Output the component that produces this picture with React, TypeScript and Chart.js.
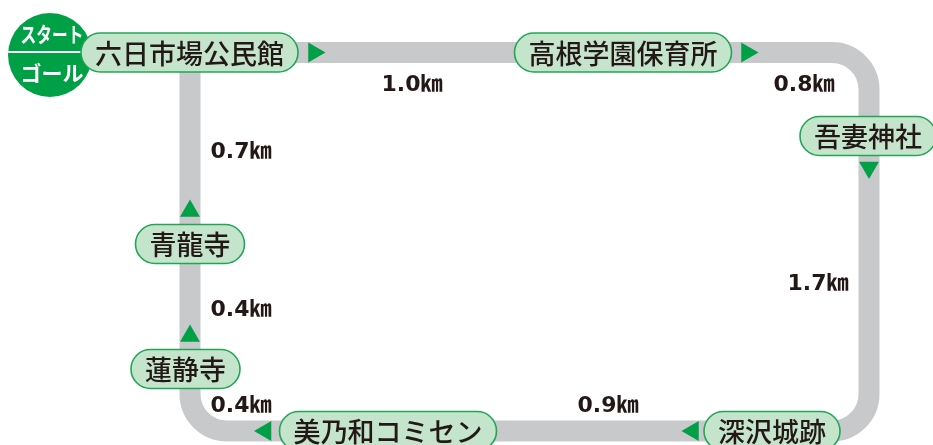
import React, { useEffect, useRef } from 'react';
import { Chart, registerables } from 'chart.js';

Chart.register(...registerables);

// ---- Data (map units = route-map grid) ----
const stationNames = ['六日市場公民館', '高根学園保育所', '吾妻神社', '深沢城跡', '美乃和コミセン', '蓮静寺', '青龍寺'];
const stationX = [189.5, 623, 868, 772, 388, 185.5, 190];
const stationY = [52.5, 52.5, 136, 431, 431, 369, 244];

const routeX = [190, 869, 869, 190, 190];
const routeY = [52.5, 52.5, 431, 431, 52.5];

const distanceLabels = ['1.0', '0.8', '1.7', '0.9', '0.4', '0.4', '0.7'];
const distanceUnit = '㎞';
const distanceX = [412, 804, 818, 608, 241, 241, 241];
const distanceY = [83, 83, 282, 404, 404, 308, 150];

const arrowX = [314, 747, 869, 693, 265.5, 190, 190];
const arrowY = [52.5, 52.5, 167.5, 431, 431, 336, 211];
const arrowDirection = ['right', 'right', 'down', 'left', 'left', 'up', 'up'];

const startGoalX = [50];
const startGoalY = [55];
const startLabel = 'スタート';
const goalLabel = 'ゴール';

const MAP_W = 933;
const MAP_H = 445;

const GREEN = '#00a047';
const ROUTE_GRAY = '#c8c9cb';
const PILL_FILL = '#c4e5cc';
const PILL_STROKE = '#22a655';
const INK = '#231815';

const rotationFor: Record<string, number> = { up: 0, right: 90, down: 180, left: 270 };

const routePlugin = {
  id: 'routePath',
  beforeDatasetsDraw(chart: any) {
    const pts = chart.getDatasetMeta(0).data;
    if (!pts || pts.length < 2) return;
    const ctx = chart.ctx;
    const R = 37;
    ctx.save();
    ctx.beginPath();
    ctx.moveTo(pts[0].x, pts[0].y);
    for (let i = 1; i < pts.length - 1; i++) {
      ctx.arcTo(pts[i].x, pts[i].y, pts[i + 1].x, pts[i + 1].y, R);
    }
    ctx.lineTo(pts[pts.length - 1].x, pts[pts.length - 1].y);
    ctx.closePath();
    ctx.strokeStyle = ROUTE_GRAY;
    ctx.lineWidth = 21;
    ctx.lineJoin = 'miter';
    ctx.stroke();
    ctx.restore();
  },
};

const labelsPlugin = {
  id: 'mapLabels',
  afterDatasetsDraw(chart: any) {
    const ctx = chart.ctx;
    // start/goal circle details
    const circ = chart.getDatasetMeta(1).data[0];
    if (circ) {
      const r = 42;
      ctx.save();
      ctx.beginPath();
      ctx.arc(circ.x, circ.y, r, 0, Math.PI * 2);
      ctx.clip();
      ctx.fillStyle = '#ffffff';
      ctx.fillRect(circ.x - r, circ.y - 4, r * 2, 2);
      ctx.restore();

      ctx.save();
      ctx.fillStyle = '#ffffff';
      ctx.textAlign = 'center';
      ctx.textBaseline = 'middle';
      ctx.font = '700 21px "Noto Sans CJK JP"';
      const sw = ctx.measureText(startLabel).width;
      const sx = Math.min(1, 63 / sw);
      ctx.save();
      ctx.translate(circ.x + 2, circ.y - 21);
      ctx.scale(sx, 1);
      ctx.fillText(startLabel, 0, 0);
      ctx.restore();
      ctx.fillText(goalLabel, circ.x + 2, circ.y + 18);
      ctx.restore();
    }

    // station pills
    const st = chart.getDatasetMeta(3).data;
    ctx.save();
    ctx.font = '500 27px "Noto Sans CJK JP"';
    ctx.textAlign = 'center';
    ctx.textBaseline = 'middle';
    st.forEach((p: any, i: number) => {
      const name = stationNames[i];
      const w = ctx.measureText(name).width + 28;
      const h = 39;
      ctx.beginPath();
      ctx.roundRect(p.x - w / 2, p.y - h / 2, w, h, h / 2);
      ctx.fillStyle = PILL_FILL;
      ctx.fill();
      ctx.lineWidth = 1.6;
      ctx.strokeStyle = PILL_STROKE;
      ctx.stroke();
      ctx.fillStyle = INK;
      ctx.fillText(name, p.x, p.y + 1);
    });
    ctx.restore();

    // distance labels
    const ds = chart.getDatasetMeta(4).data;
    ctx.save();
    ctx.fillStyle = INK;
    ctx.textAlign = 'left';
    ctx.textBaseline = 'alphabetic';
    const numFont = 'bold 22px "DejaVu Sans"';
    const unitFont = 'bold 22px "Noto Sans CJK JP"';
    ds.forEach((p: any, i: number) => {
      const num = distanceLabels[i];
      ctx.font = numFont;
      const nw = ctx.measureText(num).width;
      ctx.font = unitFont;
      const uw = ctx.measureText(distanceUnit).width;
      const x0 = p.x - (nw + uw) / 2;
      const base = p.y + 8;
      ctx.font = numFont;
      ctx.fillText(num, x0, base);
      ctx.font = unitFont;
      ctx.fillText(distanceUnit, x0 + nw, base);
    });
    ctx.restore();
  },
};

export default function App() {
  const canvasRef = useRef<HTMLCanvasElement | null>(null);

  useEffect(() => {
    const canvas = canvasRef.current;
    if (!canvas) return;
    const chart = new Chart(canvas, {
      type: 'scatter',
      data: {
        datasets: [
          {
            type: 'line',
            label: 'route',
            data: routeX.map((x, i) => ({ x, y: routeY[i] })),
            showLine: false,
            pointRadius: 0,
            borderWidth: 0,
          } as any,
          {
            label: 'start',
            data: startGoalX.map((x, i) => ({ x, y: startGoalY[i] })),
            pointRadius: 42,
            pointHoverRadius: 42,
            backgroundColor: GREEN,
            borderWidth: 0,
          },
          {
            label: 'arrows',
            data: arrowX.map((x, i) => ({ x, y: arrowY[i] })),
            pointStyle: 'triangle',
            pointRadius: 11.5,
            pointHoverRadius: 11.5,
            rotation: arrowDirection.map((d) => rotationFor[d]),
            backgroundColor: GREEN,
            borderWidth: 0,
          } as any,
          {
            label: 'stations',
            data: stationX.map((x, i) => ({ x, y: stationY[i] })),
            pointRadius: 0,
            borderWidth: 0,
          },
          {
            label: 'distances',
            data: distanceX.map((x, i) => ({ x, y: distanceY[i] })),
            pointRadius: 0,
            borderWidth: 0,
          },
        ],
      },
      options: {
        animation: false,
        responsive: false,
        maintainAspectRatio: false,
        events: [],
        layout: { padding: 0, autoPadding: false },
        plugins: {
          legend: { display: false },
          tooltip: { enabled: false },
        },
        scales: {
          x: { type: 'linear', min: 0, max: MAP_W, display: false },
          y: { type: 'linear', min: 0, max: MAP_H, reverse: true, display: false },
        },
      },
      plugins: [routePlugin, labelsPlugin],
    });
    return () => chart.destroy();
  }, []);

  return (
    <div style={{ position: 'absolute', left: 0, top: 0, width: MAP_W, height: MAP_H, background: '#ffffff' }}>
      <canvas ref={canvasRef} width={MAP_W} height={MAP_H} style={{ display: 'block', width: MAP_W, height: MAP_H }} />
    </div>
  );
}
